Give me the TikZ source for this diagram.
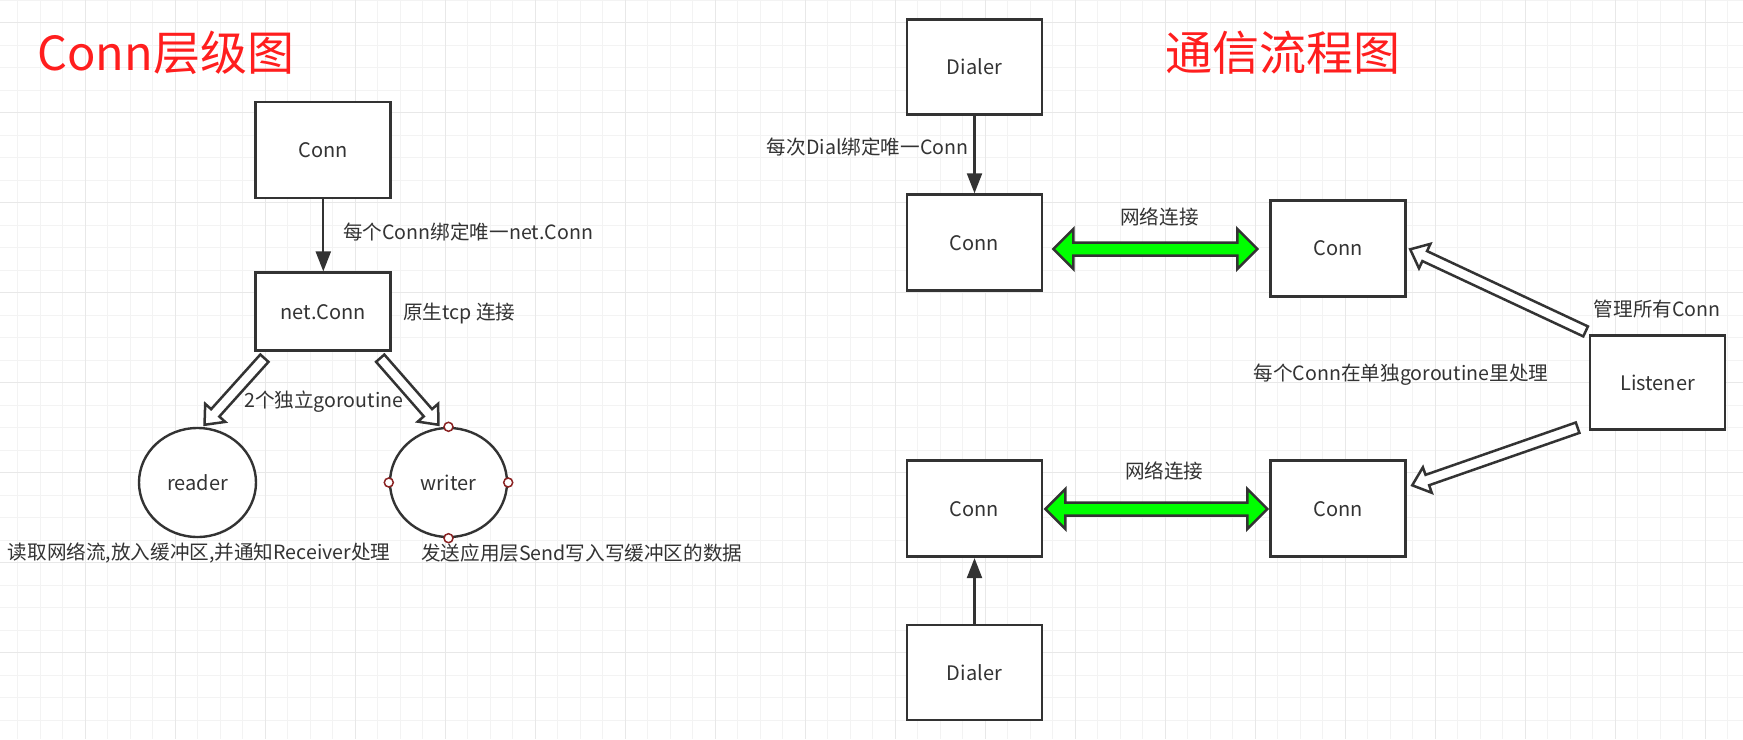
\documentclass[tikz,border=0pt]{standalone}
\usepackage{fontspec}
\newfontfamily\cjk{Noto Sans CJK SC}
\usetikzlibrary{positioning,calc,shapes.geometric,arrows.meta}

\definecolor{linegray}{HTML}{333333}
\definecolor{gridminor}{HTML}{F3F3F3}
\definecolor{gridmajor}{HTML}{E8E8E8}
\definecolor{titlered}{HTML}{FF1E1E}
\definecolor{netgreen}{HTML}{00FF00}
\definecolor{handlered}{HTML}{8B2323}

\tikzset{
  box/.style={draw=linegray, line width=2.8pt, fill=white, minimum width=135pt,
    minimum height=96pt, inner sep=0pt, text=linegray, font=\cjk\fontsize{20}{24}\selectfont},
  proc/.style={ellipse, draw=linegray, line width=2.4pt, fill=white, minimum width=117pt,
    minimum height=109pt, inner sep=0pt, text=linegray, font=\cjk\fontsize{20}{24}\selectfont},
  lbl/.style={inner sep=0pt, text=linegray, font=\cjk\fontsize{19.6}{23}\selectfont},
  headline/.style={inner sep=0pt, text=titlered, font=\cjk\fontsize{47}{56}\selectfont},
  linkarrow/.style={draw=linegray, line width=2.2pt, -{Triangle[length=20pt,width=15pt]}},
  hollow/.style={draw=linegray, line width=2.5pt, fill=white, line join=miter},
  netlink/.style={draw=linegray, line width=2.5pt, fill=netgreen, line join=miter},
  handle/.style={draw=handlered, line width=1.5pt, fill=white},
}

% fat white arrow from #1 to #2
\newcommand{\hollowarrow}[2]{%
  \draw[hollow] let \p1=($(#2)-(#1)$), \n1={atan2(\y1,\x1)}, \n2={veclen(\x1,\y1)} in
    [shift={(#1)}, rotate=\n1]
    (0,-5.5) -- (\n2-16,-5.5) -- (\n2-16,-13.5) -- (\n2,0) -- (\n2-16,13.5) -- (\n2-16,5.5) -- (0,5.5) -- cycle;
}
% green double arrow from #1 to #2
\newcommand{\netarrow}[2]{%
  \draw[netlink] let \p1=($(#2)-(#1)$), \n1={atan2(\y1,\x1)}, \n2={veclen(\x1,\y1)} in
    [shift={(#1)}, rotate=\n1]
    (0,0) -- (20,20) -- (20,6.5) -- (\n2-20,6.5) -- (\n2-20,20) -- (\n2,0)
    -- (\n2-20,-20) -- (\n2-20,-6.5) -- (20,-6.5) -- (20,-20) -- cycle;
}

\begin{document}
\begin{tikzpicture}[x=1pt, y=1pt]
  \useasboundingbox (0,0) rectangle (1743,-739);
  \fill[white] (0,0) rectangle (1743,-739);
  % background grid
  \foreach \i in {0,...,76} {
    \draw[gridminor, line width=1pt] ({17.5+22.5*\i},0) -- ++(0,-739);
  }
  \foreach \i in {0,...,32} {
    \draw[gridminor, line width=1pt] (0,{-0.2-22.5*\i}) -- ++(1743,0);
  }
  \foreach \i in {0,...,18} {
    \draw[gridmajor, line width=1pt] ({85+90*\i},0) -- ++(0,-739);
  }
  \foreach \i in {0,...,7} {
    \draw[gridmajor, line width=1pt] (0,{-22.7-90*\i}) -- ++(1743,0);
  }

  % titles
  \node[headline, anchor=base west] (lefttitle) at (37,-70) {Conn层级图};
  \node[headline, anchor=base west] (righttitle) at (1165,-70) {通信流程图};

  % Conn hierarchy
  \node[box] (conn) at (323.3,-150) {Conn};
  \node[box, minimum height=78pt] (netconn) at (323.3,-311.8) {net.Conn};
  \node[proc] (reader) at (197.5,-482.5) {reader};
  \node[proc] (writer) at (448.5,-482.5) {writer};
  \foreach \a in {north,south,east,west} {
    \draw[handle] (writer.\a) circle (4.5);
  }

  \draw[linkarrow] (conn.south) -- (netconn.north);
  \coordinate (rdtail) at ($(netconn.south west)+(10,-6)$);
  \coordinate (rdhead) at ($(reader.north)+(7,2)$);
  \coordinate (wrtail) at ($(netconn.south east)+(-12,-6)$);
  \coordinate (wrhead) at ($(writer.north)+(-10,2)$);
  \hollowarrow{rdtail}{rdhead}
  \hollowarrow{wrtail}{wrhead}

  \node[lbl, anchor=west] (bindnet) at (343,-231.7) {每个Conn绑定唯一net.Conn};
  \node[lbl, anchor=west] (rawtcp) at (403,-314) {原生tcp 连接};
  \node[lbl, anchor=west] (twogo) at (244,-402) {2个独立goroutine};
  \node[lbl, anchor=west] (readdesc) at (7.7,-552.7) {读取网络流,放入缓冲区,并通知Receiver处理};
  \node[lbl, anchor=west] (writedesc) at (421,-552.7) {发送应用层Send写入写缓冲区的数据};

  % communication flow
  \node[box, minimum height=95pt] (dialertop) at (974.5,-66.8) {Dialer};
  \node[box] (connA) at (974.5,-242.7) {Conn};
  \node[box] (connB) at (1338.3,-248.3) {Conn};
  \node[box, minimum height=94pt] (listener) at (1657.5,-382.8) {Listener};
  \node[box] (connC) at (974.5,-508.7) {Conn};
  \node[box] (connD) at (1338.3,-508.7) {Conn};
  \node[box, minimum height=95pt] (dialerbot) at (974.5,-672.5) {Dialer};

  \draw[linkarrow] (dialertop.south) -- (connA.north);
  \draw[linkarrow] (dialerbot.north) -- (connC.south);

  \coordinate (netAl) at ($(connA.east)+(10,-6.3)$);
  \coordinate (netAr) at ($(connB.west)+(-12,-0.7)$);
  \coordinate (netCl) at ($(connC.east)+(2,-0.3)$);
  \coordinate (netCr) at ($(connD.west)+(-2,-0.3)$);
  \netarrow{netAl}{netAr}
  \netarrow{netCl}{netCr}

  \coordinate (lsupper) at ($(listener.north west)+(-3,3)$);
  \coordinate (lsuphead) at ($(connB.east)+(3,-1)$);
  \coordinate (lslower) at ($(listener.south west)+(-11,3.5)$);
  \coordinate (lslowhead) at ($(connD.north east)+(5,-26)$);
  \hollowarrow{lsupper}{lsuphead}
  \hollowarrow{lslower}{lslowhead}

  \node[lbl, anchor=east] (binddial) at (968.5,-146.7) {每次Dial绑定唯一Conn};
  \node[lbl] (netupper) at (1159.4,-217) {网络连接};
  \node[lbl] (netlower) at (1164.3,-470.7) {网络连接};
  \node[lbl, anchor=west] (manage) at (1593.6,-309) {管理所有Conn};
  \node[lbl, anchor=west] (pergo) at (1253.5,-375) {每个Conn在单独goroutine里处理};
\end{tikzpicture}
\end{document}
